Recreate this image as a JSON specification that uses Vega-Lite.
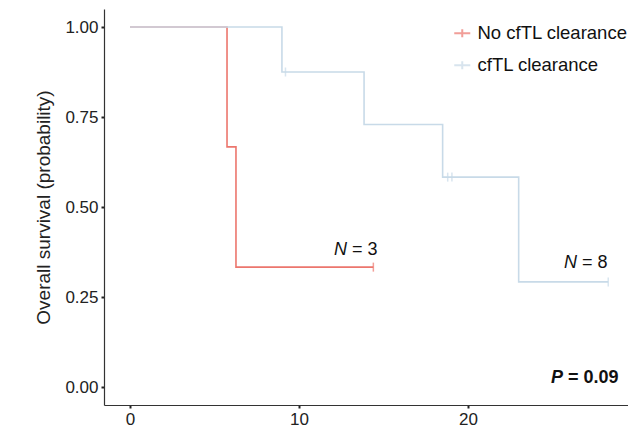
{
  "$schema": "https://vega.github.io/schema/vega-lite/v6.json",
  "width": 524,
  "height": 396,
  "autosize": {"type": "none"},
  "padding": {"left": 104, "top": 9, "right": 0, "bottom": 23},
  "background": "white",
  "config": {
    "view": {"stroke": null},
    "font": "Liberation Sans",
    "axis": {
      "grid": false,
      "domainColor": "#333333",
      "domainWidth": 1.2,
      "tickColor": "#222222",
      "tickWidth": 2,
      "tickSize": 3,
      "labelFont": "Liberation Sans",
      "labelFontSize": 17,
      "labelColor": "#222222",
      "titleFont": "Liberation Sans",
      "titleFontWeight": "normal",
      "titleColor": "#222222"
    }
  },
  "datasets": {
    "curve": [
      {"group": "No cfTL clearance", "time": 0, "surv": 1.0},
      {"group": "No cfTL clearance", "time": 5.74, "surv": 0.667},
      {"group": "No cfTL clearance", "time": 6.27, "surv": 0.333},
      {"group": "No cfTL clearance", "time": 14.4, "surv": 0.333},
      {"group": "cfTL clearance", "time": 0, "surv": 1.0},
      {"group": "cfTL clearance", "time": 8.99, "surv": 0.875},
      {"group": "cfTL clearance", "time": 13.85, "surv": 0.729},
      {"group": "cfTL clearance", "time": 18.5, "surv": 0.583},
      {"group": "cfTL clearance", "time": 23.0, "surv": 0.292},
      {"group": "cfTL clearance", "time": 28.3, "surv": 0.292}
    ],
    "censor": [
      {"group": "No cfTL clearance", "time": 14.4, "surv": 0.333},
      {"group": "cfTL clearance", "time": 9.2, "surv": 0.875},
      {"group": "cfTL clearance", "time": 18.8, "surv": 0.583},
      {"group": "cfTL clearance", "time": 19.05, "surv": 0.583},
      {"group": "cfTL clearance", "time": 28.3, "surv": 0.292}
    ],
    "one": [{"k": 1}]
  },
  "encoding": {
    "x": {
      "type": "quantitative",
      "scale": {"domain": [-1.54, 29.47], "nice": false, "zero": false},
      "axis": {"values": [0, 10, 20, 30], "title": null, "labelPadding": 3}
    },
    "y": {
      "type": "quantitative",
      "scale": {"domain": [-0.05, 1.05], "nice": false, "zero": false},
      "axis": {
        "values": [0, 0.25, 0.5, 0.75, 1],
        "format": ".2f",
        "title": "Overall survival (probability)",
        "titleFontSize": 19,
        "titlePadding": 11,
        "labelPadding": 3
      }
    }
  },
  "layer": [
    {
      "data": {"name": "curve"},
      "transform": [{"filter": "datum.group === 'No cfTL clearance'"}],
      "mark": {"type": "line", "interpolate": "step-after", "strokeWidth": 1.6},
      "encoding": {
        "x": {"field": "time", "type": "quantitative"},
        "y": {"field": "surv", "type": "quantitative"},
        "color": {
          "field": "group",
          "type": "nominal",
          "scale": {"domain": ["No cfTL clearance", "cfTL clearance"], "range": ["#EC766D", "#C8DAE8"]},
          "legend": {
            "title": null,
            "orient": "none",
            "legendX": 349,
            "legendY": 15,
            "padding": 0,
            "symbolType": "M-1,0H1M0,-0.5V0.5",
            "symbolSize": 256,
            "symbolStrokeWidth": 2,
            "labelFont": "Liberation Sans",
            "labelFontSize": 18.5,
            "labelColor": "#111111",
            "labelOffset": 6,
            "rowPadding": 13
          }
        }
      }
    },
    {
      "data": {"name": "censor"},
      "transform": [{"filter": "datum.group === 'No cfTL clearance'"}],
      "mark": {"type": "tick", "orient": "vertical", "size": 9, "thickness": 1.5},
      "encoding": {
        "x": {"field": "time", "type": "quantitative"},
        "y": {"field": "surv", "type": "quantitative"},
        "color": {"field": "group", "type": "nominal"}
      }
    },
    {
      "data": {"name": "curve"},
      "transform": [{"filter": "datum.group === 'cfTL clearance'"}],
      "mark": {"type": "line", "interpolate": "step-after", "strokeWidth": 1.6},
      "encoding": {
        "x": {"field": "time", "type": "quantitative"},
        "y": {"field": "surv", "type": "quantitative"},
        "color": {"field": "group", "type": "nominal"}
      }
    },
    {
      "data": {"name": "censor"},
      "transform": [{"filter": "datum.group === 'cfTL clearance'"}],
      "mark": {"type": "tick", "orient": "vertical", "size": 9, "thickness": 1.5},
      "encoding": {
        "x": {"field": "time", "type": "quantitative"},
        "y": {"field": "surv", "type": "quantitative"},
        "color": {"field": "group", "type": "nominal"}
      }
    },
    {
      "data": {"name": "one"},
      "mark": {"type": "text", "text": "N", "align": "right", "baseline": "alphabetic", "fontSize": 18, "fontStyle": "italic", "color": "#111111"},
      "encoding": {"x": {"datum": 12.84}, "y": {"datum": 0.367}}
    },
    {
      "data": {"name": "one"},
      "mark": {"type": "text", "text": "= 3", "align": "left", "dx": 5, "baseline": "alphabetic", "fontSize": 18, "color": "#111111"},
      "encoding": {"x": {"datum": 12.84}, "y": {"datum": 0.367}}
    },
    {
      "data": {"name": "one"},
      "mark": {"type": "text", "text": "N", "align": "right", "baseline": "alphabetic", "fontSize": 18, "fontStyle": "italic", "color": "#111111"},
      "encoding": {"x": {"datum": 26.45}, "y": {"datum": 0.331}}
    },
    {
      "data": {"name": "one"},
      "mark": {"type": "text", "text": "= 8", "align": "left", "dx": 5, "baseline": "alphabetic", "fontSize": 18, "color": "#111111"},
      "encoding": {"x": {"datum": 26.45}, "y": {"datum": 0.331}}
    },
    {
      "data": {"name": "one"},
      "mark": {"type": "text", "text": "P", "align": "right", "baseline": "alphabetic", "fontSize": 18, "fontStyle": "italic", "fontWeight": "bold", "color": "#111111"},
      "encoding": {"x": {"datum": 25.62}, "y": {"datum": 0.011}}
    },
    {
      "data": {"name": "one"},
      "mark": {"type": "text", "text": "= 0.09", "align": "left", "dx": 5, "baseline": "alphabetic", "fontSize": 18, "fontWeight": "bold", "color": "#111111"},
      "encoding": {"x": {"datum": 25.62}, "y": {"datum": 0.011}}
    }
  ]
}
